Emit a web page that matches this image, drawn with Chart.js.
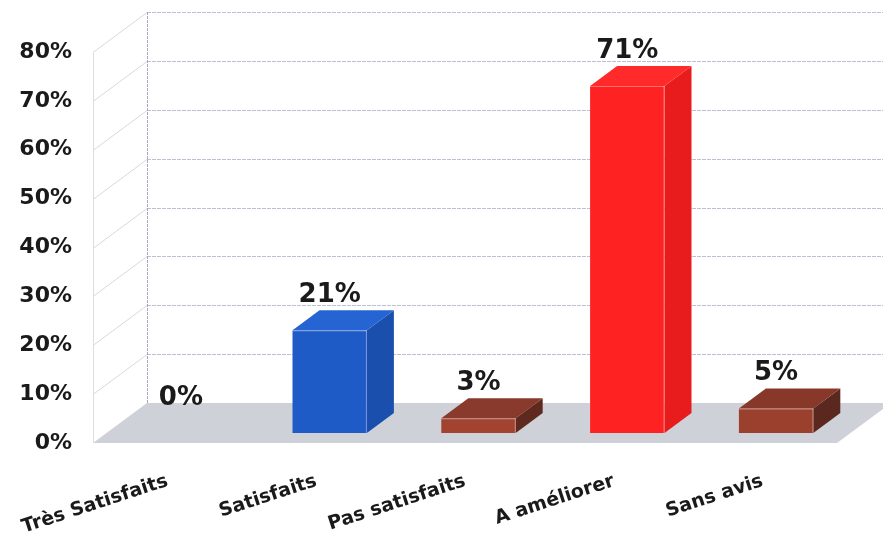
<!DOCTYPE html>
<html>
<head>
<meta charset="utf-8">
<script src="https://cdn.jsdelivr.net/npm/chart.js@4.4.1/dist/chart.umd.min.js"></script>
<style>
  html, body { margin: 0; padding: 0; background: #fff; }
  #wrap { width: 883px; height: 540px; }
</style>
</head>
<body>
<div id="wrap"><canvas id="myChart" width="883" height="540"></canvas></div>
<script>
const categories = ["Très Satisfaits", "Satisfaits", "Pas satisfaits", "A améliorer", "Sans avis"];
const values = [0, 21, 3, 71, 5];
const yTicks = [0, 10, 20, 30, 40, 50, 60, 70, 80];

const frontColors = ["#2f9a4a", "#1f5bc6", "#a2432f", "#ff2222", "#9c402e"];
const topColors = ["#38a854", "#2564d2", "#8a3a2c", "#ff2b2b", "#873829"];
const sideColors = ["#25803c", "#1b4fae", "#5e2a20", "#e81c1c", "#5a281f"];

// depth of the whole box (floor / walls) and of the bars
const depthX = 54, depthY = -40;
const barDX = 27, barDY = -20;
const barShiftX = 13.5, barShiftY = -10;

const font = "'DejaVu Sans', Verdana, sans-serif";

const box3d = {
  id: "box3d",
  beforeDatasetsDraw(chart) {
    const ctx = chart.ctx;
    const area = chart.chartArea;
    const yScale = chart.scales.y;
    const W = chart.width;

    ctx.save();
    // floor
    ctx.fillStyle = "#cfd1d8";
    ctx.beginPath();
    ctx.moveTo(area.left, area.bottom);
    ctx.lineTo(area.right, area.bottom);
    ctx.lineTo(area.right + depthX, area.bottom + depthY);
    ctx.lineTo(area.left + depthX, area.bottom + depthY);
    ctx.closePath();
    ctx.fill();

    // left wall front edge
    ctx.strokeStyle = "#dedede";
    ctx.lineWidth = 1;
    ctx.beginPath();
    ctx.moveTo(area.left + 0.5, area.top);
    ctx.lineTo(area.left + 0.5, area.bottom);
    ctx.stroke();

    yTicks.forEach((t) => {
      const y = Math.round(yScale.getPixelForValue(t)) + 0.5;
      if (t > 0) {
        // side wall diagonal
        ctx.strokeStyle = "#d8d8d8";
        ctx.beginPath();
        ctx.moveTo(area.left, y);
        ctx.lineTo(area.left + depthX, y + depthY);
        ctx.stroke();
        // back wall gridline
        ctx.strokeStyle = "#bcc0d0";
        ctx.setLineDash([4, 1]);
        ctx.beginPath();
        ctx.moveTo(area.left + depthX, y + depthY);
        ctx.lineTo(W, y + depthY);
        ctx.stroke();
        ctx.setLineDash([]);
      }
    });

    // back wall left edge
    ctx.strokeStyle = "#a3a8bd";
    ctx.setLineDash([3, 1]);
    ctx.beginPath();
    ctx.moveTo(area.left + depthX + 0.5, yScale.getPixelForValue(80) + depthY);
    ctx.lineTo(area.left + depthX + 0.5, area.bottom + depthY);
    ctx.stroke();
    ctx.setLineDash([]);

    // bars
    const meta = chart.getDatasetMeta(0);
    meta.data.forEach((bar, i) => {
      const w = bar.width;
      const x0 = bar.x - w / 2 + barShiftX;
      const x1 = x0 + w;
      const top = bar.y + barShiftY;
      const bottom = bar.base + barShiftY;
      if (values[i] > 0) {
        ctx.fillStyle = sideColors[i];
        ctx.beginPath();
        ctx.moveTo(x1, top);
        ctx.lineTo(x1 + barDX, top + barDY);
        ctx.lineTo(x1 + barDX, bottom + barDY);
        ctx.lineTo(x1, bottom);
        ctx.closePath();
        ctx.fill();

        ctx.fillStyle = topColors[i];
        ctx.beginPath();
        ctx.moveTo(x0, top);
        ctx.lineTo(x1, top);
        ctx.lineTo(x1 + barDX, top + barDY);
        ctx.lineTo(x0 + barDX, top + barDY);
        ctx.closePath();
        ctx.fill();

        ctx.fillStyle = frontColors[i];
        ctx.fillRect(x0, top, w, bottom - top);

        // light edges
        ctx.strokeStyle = "rgba(255,255,255,0.35)";
        ctx.beginPath();
        ctx.moveTo(x0, top + 0.5);
        ctx.lineTo(x1, top + 0.5);
        ctx.moveTo(x1 - 0.5, top);
        ctx.lineTo(x1 - 0.5, bottom);
        ctx.stroke();
      }

      // value label
      ctx.fillStyle = "#1a1a1a";
      ctx.font = "bold 26px " + font;
      ctx.textAlign = "center";
      ctx.textBaseline = "middle";
      ctx.fillText(values[i] + "%", x0 + w / 2, top - 35);
    });

    ctx.restore();
    return false;
  },
};

new Chart(document.getElementById("myChart"), {
  type: "bar",
  data: {
    labels: categories,
    datasets: [
      {
        data: values,
        backgroundColor: frontColors,
        categoryPercentage: 1,
        barPercentage: 0.5,
      },
    ],
  },
  options: {
    responsive: false,
    animation: false,
    events: [],
    layout: { padding: { top: 52, right: 46, left: 0, bottom: 0 } },
    plugins: {
      legend: { display: false },
      tooltip: { enabled: false },
    },
    scales: {
      x: {
        grid: { display: false },
        border: { display: false },
        ticks: {
          color: "#1a1a1a",
          font: { family: font, size: 19, weight: "bold" },
          minRotation: 18,
          maxRotation: 18,
          padding: 19,
        },
        afterFit: (scale) => {
          scale.height = 97;
          scale.paddingLeft = 0;
          scale.paddingRight = 0;
        },
      },
      y: {
        min: 0,
        max: 80,
        grid: { display: false },
        border: { display: false },
        ticks: {
          stepSize: 10,
          color: "#1a1a1a",
          font: { family: font, size: 22, weight: "bold" },
          padding: 13,
          callback: (v) => v + "%",
        },
        afterFit: (scale) => {
          scale.width = 93;
          scale.paddingTop = 0;
          scale.paddingBottom = 0;
        },
      },
    },
  },
  plugins: [box3d],
});
</script>
</body>
</html>
